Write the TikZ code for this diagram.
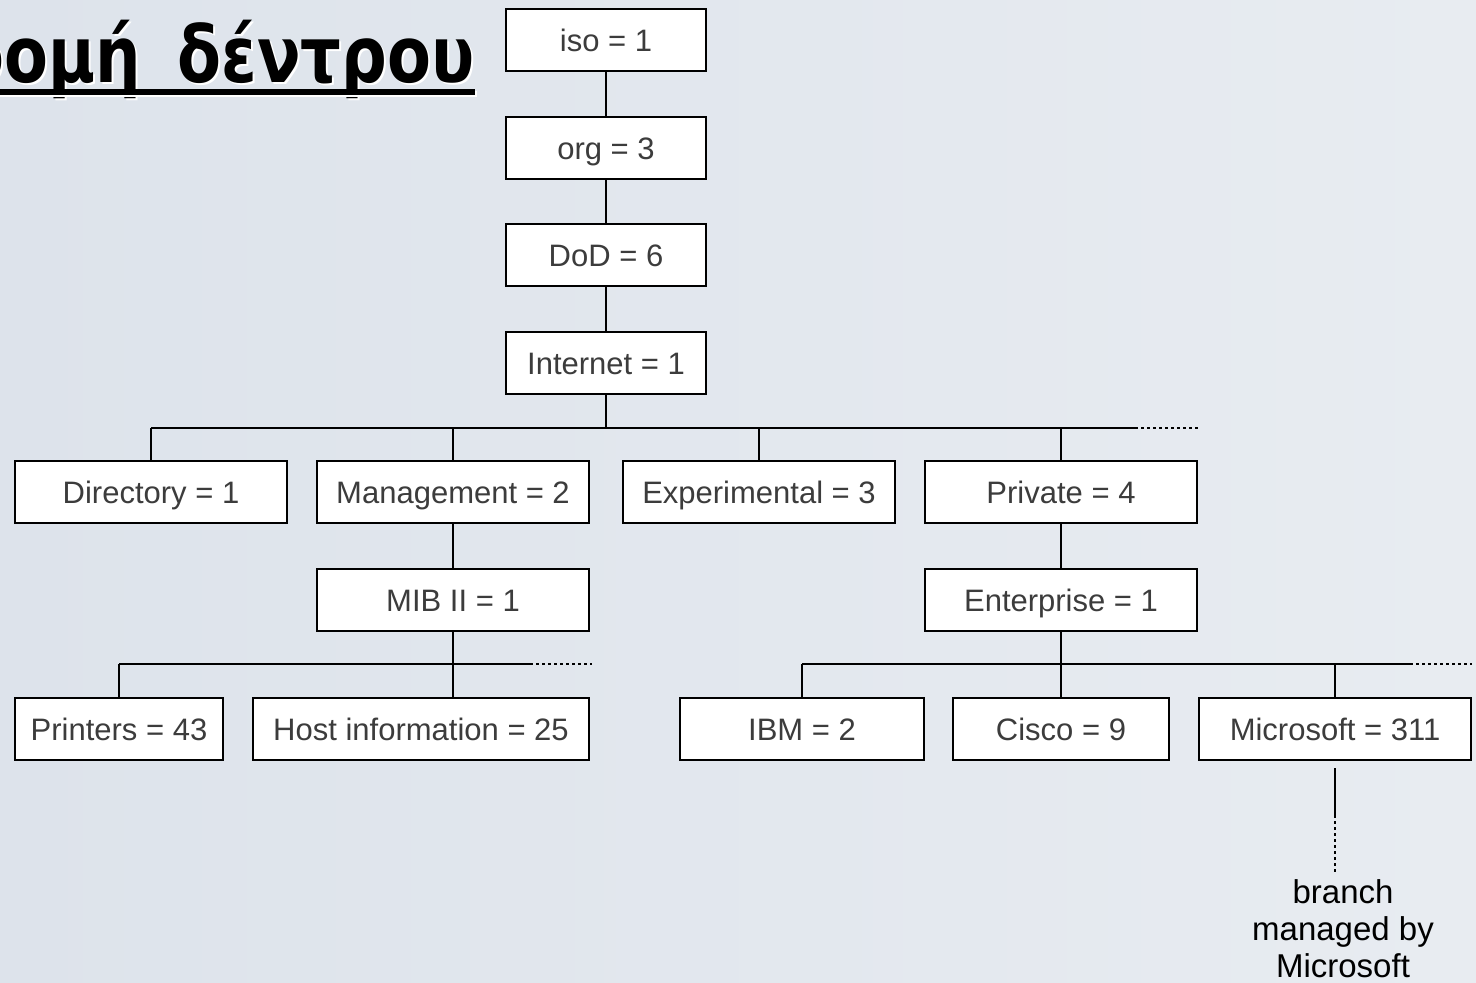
\documentclass[tikz,border=0pt]{standalone}
\usepackage{fontspec}
\setmainfont{Liberation Sans}
\newfontfamily\titlefont{DejaVu Sans}
\usetikzlibrary{calc}

\definecolor{bgL}{RGB}{221,227,235}
\definecolor{bgR}{RGB}{232,236,241}
\definecolor{txtgray}{RGB}{60,60,60}

\tikzset{
	oidbox/.style={draw, fill=white, line width=1.4pt, minimum height=31pt, inner sep=0pt,
		text height=11pt, text depth=0pt, text=txtgray, font=\fontsize{15.5}{18}\selectfont},
	titletext/.style={anchor=base east, inner sep=0pt, xscale=0.82,
		font=\titlefont\bfseries\fontsize{39}{44}\selectfont},
	tree/.style={line width=1.4pt},
	more/.style={line width=1.4pt, dotted, dash pattern=on 1.4pt off 1.6pt}
}

\begin{document}
\begin{tikzpicture}[x=0.5pt,y=-0.5pt]
		\useasboundingbox (0,0) rectangle (1476,982);
		\shade[left color=bgL, right color=bgR] (0,0) rectangle (1476,982);
		% title
		\begin{scope}
			\clip (0,0) rectangle (1476,982);
			\node[titletext, text=white] (titleshadow) at (477,84) {δομή\hspace{9pt} δέντρου};
			\node[titletext] (title) at (475,82) {δομή\hspace{9pt} δέντρου};
			\draw[white, line width=2.6pt] ($(titleshadow.base west)+(0,10)$) -- ($(titleshadow.base east)+(0,10)$);
			\draw[line width=2.6pt] ($(title.base west)+(0,10)$) -- ($(title.base east)+(0,10)$);
		\end{scope}
		% main chain
		\node[oidbox, minimum width=100pt] (iso) at (606,40) {iso = 1};
		\node[oidbox, minimum width=100pt] (org) at (606,148) {org = 3};
		\node[oidbox, minimum width=100pt] (dod) at (606,255) {DoD = 6};
		\node[oidbox, minimum width=100pt] (internet) at (606,363) {Internet = 1};
		% second level
		\node[oidbox, minimum width=136pt] (directory) at (151,492) {Directory = 1};
		\node[oidbox, minimum width=136pt] (mgmt) at (453,492) {Management = 2};
		\node[oidbox, minimum width=136pt] (experimental) at (759,492) {Experimental = 3};
		\node[oidbox, minimum width=136pt] (private) at (1061,492) {Private = 4};
		\node[oidbox, minimum width=136pt] (mib) at (453,600) {MIB II = 1};
		\node[oidbox, minimum width=136pt] (enterprise) at (1061,600) {Enterprise = 1};
		% leaves
		\node[oidbox, minimum width=104pt] (printers) at (119,729) {Printers = 43};
		\node[oidbox, minimum width=168pt] (host) at (421,729) {Host information = 25};
		\node[oidbox, minimum width=122pt] (ibm) at (802,729) {IBM = 2};
		\node[oidbox, minimum width=108pt] (cisco) at (1061,729) {Cisco = 9};
		\node[oidbox, minimum width=136pt] (microsoft) at (1335,729) {Microsoft = 311};
		\node[align=center, inner sep=0pt, text=black, font=\fontsize{16.5}{18.5}\selectfont] (branch) at (1343,929) {branch\\managed by\\Microsoft};
		% bus ends
		\coordinate (busA) at (1135,428);
		\coordinate (busAdot) at (1200,428);
		\coordinate (busB) at (530,664);
		\coordinate (busBdot) at (592,664);
		\coordinate (busC) at (1410,664);
		\coordinate (busCdot) at (1472,664);
		\coordinate (msA) at (1335,768);
		\coordinate (msB) at (1335,815);
		\coordinate (msC) at (1335,872);
		% connectors
		\draw[tree] (iso) -- (org);
		\draw[tree] (org) -- (dod);
		\draw[tree] (dod) -- (internet);
		\draw[tree] (internet.south) -- (internet.south |- busA);
		\draw[tree] (directory.north |- busA) -- (busA);
		\draw[more] (busA) -- (busAdot);
		\foreach \n in {directory,mgmt,experimental,private}
		{
			\draw[tree] (\n.north |- busA) -- (\n.north);
		}
		\draw[tree] (mgmt) -- (mib);
		\draw[tree] (private) -- (enterprise);
		\draw[tree] (mib.south) -- (mib.south |- busB);
		\draw[tree] (printers.north |- busB) -- (busB);
		\draw[more] (busB) -- (busBdot);
		\draw[tree] (printers.north |- busB) -- (printers.north);
		\draw[tree] (mib.south |- busB) -- (mib.south |- host.north);
		\draw[tree] (enterprise.south) -- (enterprise.south |- busC);
		\draw[tree] (ibm.north |- busC) -- (busC);
		\draw[more] (busC) -- (busCdot);
		\foreach \n in {ibm,cisco,microsoft}
		{
			\draw[tree] (\n.north |- busC) -- (\n.north);
		}
		\draw[tree] (msA) -- (msB);
		\draw[more] (msB) -- (msC);
	\end{tikzpicture}
\end{document}
